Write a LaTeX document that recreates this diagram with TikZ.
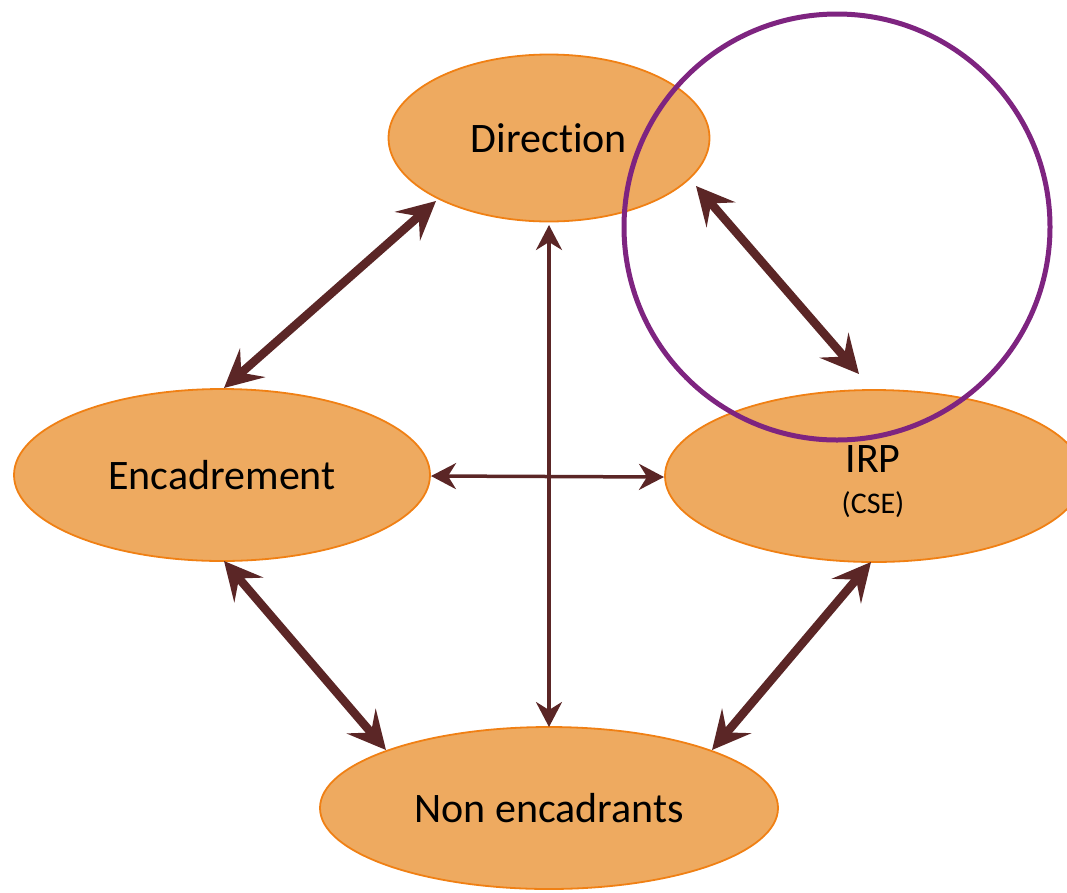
\documentclass[tikz,border=0pt]{standalone}
\usepackage{fontspec}
\setmainfont[Ligatures={NoCommon}]{Carlito}
\usetikzlibrary{shapes.geometric,arrows.meta}
\definecolor{ofill}{RGB}{238,170,96}
\definecolor{oline}{RGB}{240,128,20}
\definecolor{arr}{RGB}{91,38,38}
\definecolor{purp}{RGB}{126,36,128}
\tikzset{
  blob/.style={ellipse, draw=oline, line width=1.8pt, fill=ofill, inner sep=0pt, font=\fontsize{42}{46}\selectfont},
  bigarrow/.style={draw=arr, line width=8.5pt, {Stealth[length=38pt,width=38pt,inset=15pt]}-{Stealth[length=38pt,width=38pt,inset=15pt]}},
  thinarrow/.style={draw=arr, line width=3.5pt, {Stealth[length=25pt,width=26pt,inset=8pt]}-{Stealth[length=25pt,width=26pt,inset=8pt]}},
}
\begin{document}
\begin{tikzpicture}[x=1pt,y=-1pt]
\useasboundingbox (0,0) rectangle (1067,892);
\node[blob, minimum width=321pt, minimum height=167pt] (dir) at (549,138) {Direction};
\node[blob, minimum width=416pt, minimum height=172pt] (enc) at (222,475) {Encadrement};
\node[blob, minimum width=418pt, minimum height=172pt] (irp) at (874,476) {};
\node[font=\fontsize{42}{46}\selectfont, align=center, inner sep=0pt] (irptext) at (873,482) {IRP\\[-5pt]{\fontsize{30}{33}\selectfont (CSE)}};
\node[blob, minimum width=458pt, minimum height=162pt] (non) at (549,808) {Non encadrants};
\node[circle, draw=purp, line width=5pt, minimum size=426pt, inner sep=0pt] (ring) at (837,227) {};
% arrow end points
\coordinate (a1s) at (436,201); \coordinate (a1e) at (224,388);
\coordinate (a2s) at (696,186); \coordinate (a2e) at (859,374);
\coordinate (a3s) at (224,561); \coordinate (a3e) at (386,750);
\coordinate (a4s) at (871,562); \coordinate (a4e) at (712,750);
\coordinate (vs) at (549,225); \coordinate (ve) at (549,727);
\coordinate (hs) at (431,476); \coordinate (he) at (664,477);
\draw[bigarrow] (a1s) -- (a1e);
\draw[bigarrow] (a2s) -- (a2e);
\draw[bigarrow] (a3s) -- (a3e);
\draw[bigarrow] (a4s) -- (a4e);
\draw[thinarrow] (vs) -- (ve);
\draw[thinarrow] (hs) -- (he);
\end{tikzpicture}
\end{document}
